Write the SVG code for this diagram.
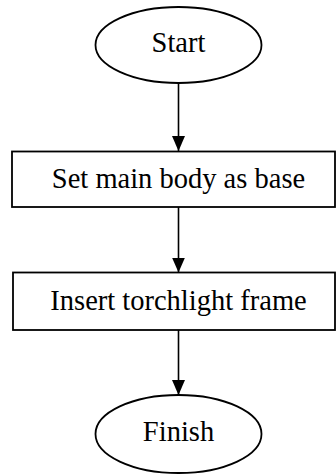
<svg xmlns="http://www.w3.org/2000/svg" width="336" height="475" viewBox="0 0 336 475">
  <style>
    .shape { fill: #ffffff; stroke: #000000; stroke-width: 1.8; }
    .label { font-family: "Liberation Serif", "Times New Roman", serif; font-size: 28.5px; fill: #000000; text-anchor: middle; }
    .edge { stroke: #000000; stroke-width: 1.6; fill: none; marker-end: url(#arrow); }
  </style>
  <defs>
    <marker id="arrow" viewBox="0 0 15 13" refX="15" refY="6.5" markerWidth="15" markerHeight="13" markerUnits="userSpaceOnUse" orient="auto">
      <path d="M0,0 L15,6.5 L0,13 Z" fill="#000000"/>
    </marker>
  </defs>
  <rect width="336" height="475" fill="#ffffff"/>

  <g id="connectors">
    <line class="edge" x1="178.5" y1="83" x2="178.5" y2="151"/>
    <line class="edge" x1="178.5" y1="207" x2="178.5" y2="272.5"/>
    <line class="edge" x1="178.5" y1="330" x2="178.5" y2="395"/>
  </g>

  <g id="start">
    <ellipse class="shape" cx="178.5" cy="45" rx="83" ry="38"/>
    <text class="label" x="178.5" y="52">Start</text>
  </g>

  <g id="set-base">
    <rect class="shape" x="12" y="151.5" width="323" height="55.5"/>
    <text class="label" x="178.5" y="188">Set main body as base</text>
  </g>

  <g id="insert-frame">
    <rect class="shape" x="13" y="272.5" width="322" height="57.5"/>
    <text class="label" x="178.5" y="310">Insert torchlight frame</text>
  </g>

  <g id="finish">
    <ellipse class="shape" cx="178.5" cy="434" rx="83" ry="39"/>
    <text class="label" x="178.5" y="441">Finish</text>
  </g>
</svg>
